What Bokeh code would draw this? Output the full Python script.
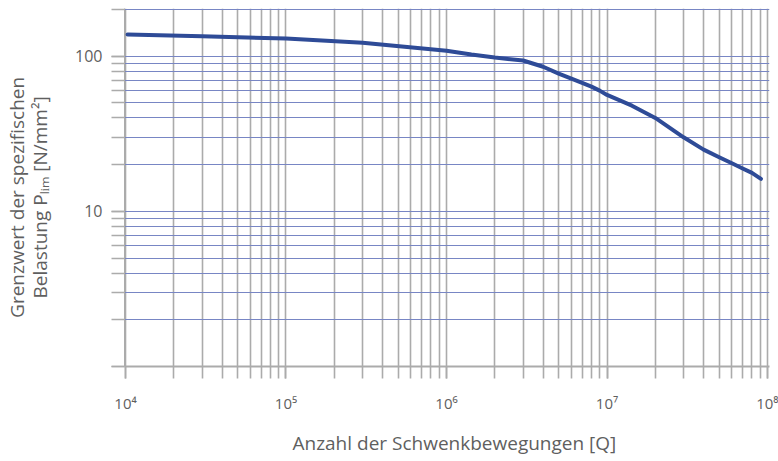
import math
from bokeh.plotting import figure
from bokeh.models import FixedTicker, LogAxis
from bokeh.embed import file_html
from bokeh.resources import INLINE

# ---- data ----
cycles = [1.03e4, 3e4, 1e5, 3e5, 1e6, 1.43e6, 2e6, 3e6, 4e6, 5e6, 6e6, 7e6,
          8e6, 9e6, 1e7, 1.43e7, 2e7, 3e7, 4e7, 5e7, 6e7, 7e7, 8e7, 9.1e7]
p_lim = [138, 134.5, 130, 122, 108.5, 102.5, 98, 93.8, 85.5, 77.3, 71.8, 67.3,
         63.7, 60, 56.3, 48, 40, 30, 25, 22.3, 20.4, 18.9, 17.7, 16.2]

x_major = [1e4, 1e5, 1e6, 1e7, 1e8]
x_labels = ["10⁴", "10⁵", "10⁶", "10⁷", "10⁸"]
y_major = [1, 10, 100]
y_labels = ["", "10", "100"]

x_title = "Anzahl der Schwenkbewegungen [Q]"
y_title1 = "Grenzwert der spezifischen"
y_title2 = "Belastung Pₗᵢₘ [N/mm²]"

# ---- layout helpers (page pixel -> data) ----
DEC_X = 161.0
DEC_Y = 156.9
def px2x(px):
    return 10 ** (4 + (px - 123) / DEC_X)
def py2y(py):
    return 10 ** (math.log10(200) - (py - 9) / DEC_Y)

x_minor = [m * 10 ** k for k in range(4, 8) for m in range(1, 10)] + [1e8]
y_minor = [m * 10 ** k for k in range(0, 3) for m in range(1, 10)]
y_grid = [v for v in y_minor if v > 1 and v <= 100] + [200]

FONT = "Open Sans"
TXT = "#5f5f5f"
GRAY = "#ababab"
NB = "\u00a0"  # non-breaking spaces nudge the centred titles like the reference

H = 458
p = figure(x_axis_type="log", y_axis_type="log",
           x_range=(px2x(122), px2x(769)), y_range=(1, py2y(8)),
           width=778, height=H, output_backend="svg", toolbar_location=None,
           min_border_left=122, min_border_right=9, min_border_top=8,
           min_border_bottom=H - 370)
p.outline_line_color = None
p.background_fill_color = "white"

p.xgrid.ticker = FixedTicker(ticks=x_minor)
p.xgrid.grid_line_color = GRAY
p.xgrid.grid_line_width = 1.6
p.ygrid.ticker = FixedTicker(ticks=y_grid)
p.ygrid.grid_line_color = "#7886c4"
p.ygrid.grid_line_width = 1.1

# x axis
xa = p.xaxis[0]
xa.ticker = FixedTicker(ticks=x_major, minor_ticks=x_minor)
xa.major_label_overrides = {v: s for v, s in zip(x_major, x_labels)}
xa.major_tick_in = 0
xa.minor_tick_in = 0
xa.major_tick_out = 12
xa.minor_tick_out = 12
xa.major_tick_line_color = GRAY
xa.minor_tick_line_color = GRAY
xa.major_tick_line_width = 1.6
xa.minor_tick_line_width = 1.6
xa.axis_line_color = GRAY
xa.axis_line_width = 2
xa.major_label_standoff = 14
xa.major_label_text_font = FONT
xa.major_label_text_font_size = "15px"
xa.major_label_text_color = TXT
xa.axis_label = NB * 3 + x_title
xa.axis_label_standoff = 14
xa.axis_label_text_font = FONT
xa.axis_label_text_font_size = "19px"
xa.axis_label_text_font_style = "normal"
xa.axis_label_text_color = TXT

# y axis
ya = p.yaxis[0]
ya.ticker = FixedTicker(ticks=y_major, minor_ticks=y_minor)
ya.major_label_overrides = {v: s for v, s in zip(y_major, y_labels)}
ya.major_tick_in = 0
ya.minor_tick_in = 0
ya.major_tick_out = 13
ya.minor_tick_out = 13
ya.major_tick_line_color = GRAY
ya.minor_tick_line_color = GRAY
ya.major_tick_line_width = 1.6
ya.minor_tick_line_width = 1.6
ya.axis_line_color = GRAY
ya.axis_line_width = 1
ya.major_label_standoff = 9
ya.major_label_text_font = FONT
ya.major_label_text_font_size = "16px"
ya.major_label_text_color = TXT
ya.axis_label = y_title2 + NB * 4
ya.axis_label_standoff = 19
ya.axis_label_text_font = FONT
ya.axis_label_text_font_size = "19px"
ya.axis_label_text_font_style = "normal"
ya.axis_label_text_color = TXT

# second (outer) title line on its own, tick-less axis
ya2 = LogAxis(ticker=FixedTicker(ticks=[]), axis_line_color=None,
              major_tick_line_color=None, minor_tick_line_color=None,
              major_label_standoff=0, axis_label=y_title1 + NB * 4,
              axis_label_standoff=-5, axis_label_text_font=FONT,
              axis_label_text_font_size="19px", axis_label_text_font_style="normal",
              axis_label_text_color=TXT)
p.add_layout(ya2, "left")

# curve
p.line(cycles, p_lim, line_color="#2e4b97", line_width=4, line_join="round", line_cap="round")

open("out.html", "w").write(file_html(p, INLINE))
